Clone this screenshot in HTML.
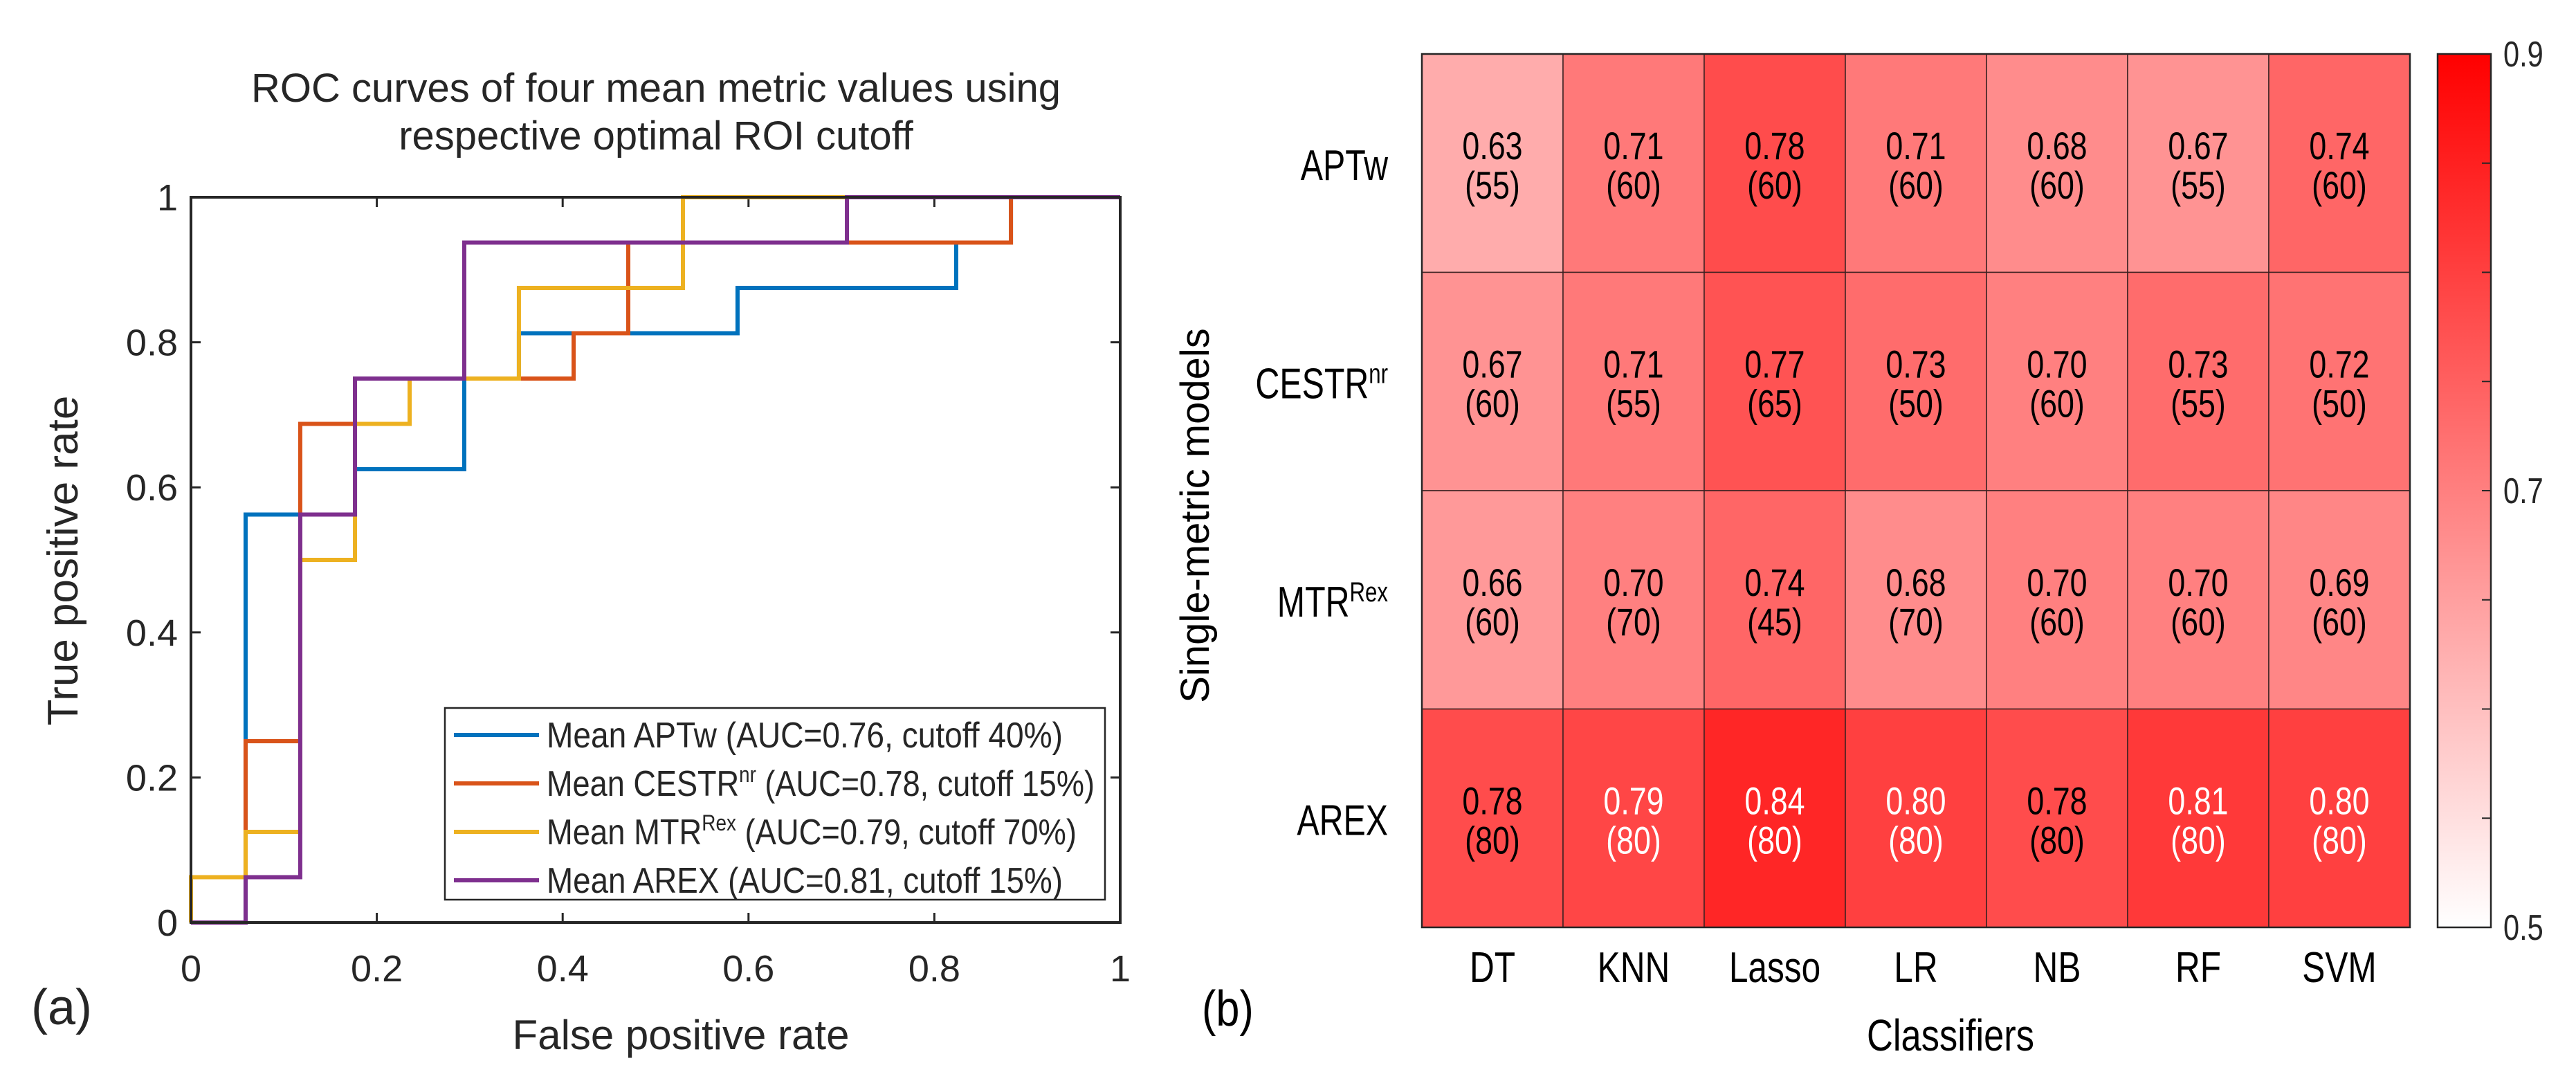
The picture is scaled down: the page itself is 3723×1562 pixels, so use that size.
<!DOCTYPE html>
<html><head><meta charset="utf-8"><style>
html,body{margin:0;padding:0;background:#fff}
svg{display:block}
text{font-family:"Liberation Sans",sans-serif;fill:#262626}
.n{font-family:"Liberation Sans Narrow","Liberation Sans",sans-serif}
</style></head><body>
<svg id="fig" width="3723" height="1562" viewBox="0 0 3723 1562" xmlns="http://www.w3.org/2000/svg">
<g id="roc"></g>
<g id="heat"></g>
</svg>
<script>
// ROC data (x = FPR, y = TPR)
const aptX=[0,0.0588,0.0588,0.1765,0.1765,0.2941,0.2941,0.3529,0.3529,0.5882,0.5882,0.8235,0.8235,0.8824,0.8824,1];
const aptY=[0,0,0.5625,0.5625,0.625,0.625,0.75,0.75,0.8125,0.8125,0.875,0.875,0.9375,0.9375,1,1];
const cesX=[0,0,0.0588,0.0588,0.1176,0.1176,0.1765,0.1765,0.4118,0.4118,0.4706,0.4706,0.8824,0.8824,1];
const cesY=[0,0.0625,0.0625,0.25,0.25,0.6875,0.6875,0.75,0.75,0.8125,0.8125,0.9375,0.9375,1,1];
const mtrX=[0,0,0.0588,0.0588,0.1176,0.1176,0.1765,0.1765,0.2353,0.2353,0.3529,0.3529,0.5294,0.5294,1];
const mtrY=[0,0.0625,0.0625,0.125,0.125,0.5,0.5,0.6875,0.6875,0.75,0.75,0.875,0.875,1,1];
const arexX=[0,0.0588,0.0588,0.1176,0.1176,0.1765,0.1765,0.2941,0.2941,0.7059,0.7059,1];
const arexY=[0,0,0.0625,0.0625,0.5625,0.5625,0.75,0.75,0.9375,0.9375,1,1];
const rocTicks=[0,0.2,0.4,0.6,0.8,1];
const rocTickLabels=["0","0.2","0.4","0.6","0.8","1"];
// Heatmap data
const classifiers=["DT","KNN","Lasso","LR","NB","RF","SVM"];
const models=["APTw","CESTR","MTR","AREX"];
const modelSup=["","nr","Rex",""];
const aucAPTw=[0.63,0.71,0.78,0.71,0.68,0.67,0.74];
const aucCESTR=[0.67,0.71,0.77,0.73,0.70,0.73,0.72];
const aucMTR=[0.66,0.70,0.74,0.68,0.70,0.70,0.69];
const aucAREX=[0.78,0.79,0.84,0.80,0.78,0.81,0.80];
const cutAPTw=[55,60,60,60,60,55,60];
const cutCESTR=[60,55,65,50,60,55,50];
const cutMTR=[60,70,45,70,60,60,60];
const cutAREX=[80,80,80,80,80,80,80];
const cbTicks=[0.5,0.7,0.9];

const NS="http://www.w3.org/2000/svg";
function mk(tag,attrs,parent,txt){const e=document.createElementNS(NS,tag);for(const k in attrs)e.setAttribute(k,attrs[k]);if(txt!==undefined)e.textContent=txt;parent.appendChild(e);return e;}
function nt(parent,x,y,size,anchor,s,txt,fill){return mk('text',{x:0,y:0,'font-size':size,'text-anchor':anchor,transform:`translate(${x},${y}) scale(${s},1)`,style:'fill:'+(fill||'#000')},parent,txt);}

// ---------- ROC ----------
const roc=document.getElementById('roc');
const L=276,R=1619,T=285,B=1333;
const sx=v=>L+v*(R-L), sy=v=>B-v*(B-T);
let t=mk('text',{x:948,y:147,'font-size':58,'text-anchor':'middle'},roc,'ROC curves of four mean metric values using');


t=mk('text',{x:948,y:216,'font-size':58,'text-anchor':'middle'},roc,'respective optimal ROI cutoff');


rocTicks.forEach((v,i)=>{
  let a=mk('line',{x1:sx(v),x2:sx(v),y1:B,y2:B-14,stroke:'#262626','stroke-width':3},roc);
  
  
  a=mk('line',{x1:sx(v),x2:sx(v),y1:T,y2:T+14,stroke:'#262626','stroke-width':3},roc);
  
  
  a=mk('line',{x1:L,x2:L+14,y1:sy(v),y2:sy(v),stroke:'#262626','stroke-width':3},roc);
  
  
  a=mk('line',{x1:R,x2:R-14,y1:sy(v),y2:sy(v),stroke:'#262626','stroke-width':3},roc);
  
  
  a=mk('text',{x:sx(v),y:1418,'font-size':54,'text-anchor':'middle'},roc,rocTickLabels[i]);
  
  
  a=mk('text',{x:257,y:sy(v)+19,'font-size':54,'text-anchor':'end'},roc,rocTickLabels[i]);
  
  
});
const series=[[aptX,aptY,'#0072BD','roc-apt'],[cesX,cesY,'#D95319','roc-cestr'],[mtrX,mtrY,'#EDB120','roc-mtr'],[arexX,arexY,'#7E2F8E','roc-arex']];
series.forEach(s=>{
  const pts=s[0].map((x,i)=>sx(x)+','+sy(s[1][i])).join(' ');
  const p=mk('polyline',{points:pts,fill:'none',stroke:s[2],'stroke-width':6,'stroke-linejoin':'miter'},roc);
  
  
});
let ax=mk('rect',{x:L,y:T,width:R-L,height:B-T,fill:'none',stroke:'#262626','stroke-width':4},roc);


t=mk('text',{x:984,y:1516,'font-size':60,'text-anchor':'middle'},roc,'False positive rate');


t=mk('text',{x:0,y:0,'font-size':62,'text-anchor':'middle',transform:'translate(112,810) rotate(-90)'},roc,'True positive rate');


t=mk('text',{x:45,y:1480,'font-size':72,fill:'#000'},roc,'(a)');


// legend
const lg=mk('g',{},roc);


mk('rect',{x:643,y:1023,width:954,height:277,fill:'#fff',stroke:'#262626','stroke-width':2.5},lg);
const legTxt=[["Mean APTw (AUC=0.76, cutoff 40%)","",""],["Mean CESTR","nr"," (AUC=0.78, cutoff 15%)"],["Mean MTR","Rex"," (AUC=0.79, cutoff 70%)"],["Mean AREX (AUC=0.81, cutoff 15%)","",""]];
const legW=[746,792,766,746];
series.forEach((s,i)=>{
  const y=1062+i*70;
  const e=mk('g',{},lg);
  
  
  mk('line',{x1:656,x2:779,y1:y,y2:y,stroke:s[2],'stroke-width':6},e);
  const tx=mk('text',{x:790,y:y+18,'font-size':52,fill:'#000',class:'n',textLength:legW[i],lengthAdjust:'spacingAndGlyphs'},e);
  mk('tspan',{},tx,legTxt[i][0]);
  if(legTxt[i][1]){mk('tspan',{dy:-20,'font-size':32},tx,legTxt[i][1]);mk('tspan',{dy:20},tx,legTxt[i][2]);}
});

// ---------- Heatmap ----------
const hm=document.getElementById('heat');
const HL=2055,HR=3483,HT=78,HB=1340;
const cw=(HR-HL)/classifiers.length, rh=(HB-HT)/models.length;
const auc=[aucAPTw,aucCESTR,aucMTR,aucAREX], cut=[cutAPTw,cutCESTR,cutMTR,cutAREX];
const col=v=>{const tt=Math.max(0,Math.min(1,(v-0.5)/0.4));const g=Math.round(255*(1-tt));return `rgb(255,${g},${g})`;};
models.forEach((m,r)=>{
  classifiers.forEach((c,k)=>{
    const v=auc[r][k];
    const x=HL+k*cw,y=HT+r*rh;
    const cell=mk('rect',{x:x,y:y,width:cw,height:rh,fill:col(v),stroke:'#3a2020','stroke-width':1.5},hm);
    
    
    const fc=v>0.785?'#fff':'#000';
    const a=nt(hm,x+cw/2,y+rh/2-6,56,'middle',0.8,v.toFixed(2),fc);
    
    
    const b=nt(hm,x+cw/2,y+rh/2+51,56,'middle',0.8,'('+cut[r][k]+')',fc);
    
    
  });
  const lt=mk('text',{x:0,y:0,'font-size':62,'text-anchor':'end',transform:`translate(2006,${HT+r*rh+rh/2+24}) scale(0.78,1)`,style:'fill:#000'},hm);
  
  
  mk('tspan',{},lt,m);
  if(modelSup[r]){mk('tspan',{dy:-22,'font-size':40},lt,modelSup[r]);}
});
mk('rect',{x:HL,y:HT,width:HR-HL,height:HB-HT,fill:'none',stroke:'#262626','stroke-width':2.5},hm);
classifiers.forEach((c,k)=>{
  const a=nt(hm,HL+k*cw+cw/2,1419,62,'middle',0.8,c);
  
  
});
t=nt(hm,2819,1518,64,'middle',0.82,'Classifiers');


t=mk('text',{x:0,y:0,'font-size':58,'text-anchor':'middle',transform:'translate(1747,745) rotate(-90)',style:'fill:#000'},hm,'Single-metric models');


t=nt(hm,1737,1482,72,'start',0.85,'(b)');


// colorbar
const defs=mk('defs',{},hm);
const gr=mk('linearGradient',{id:'cbg',x1:0,y1:1,x2:0,y2:0},defs);
mk('stop',{offset:0,'stop-color':'#fff'},gr);mk('stop',{offset:1,'stop-color':'#f00'},gr);
const CL=3523,CR=3600;
const cy=v=>HB-(v-0.5)/0.4*(HB-HT);
const cb=mk('rect',{x:CL,y:HT,width:CR-CL,height:HB-HT,fill:'url(#cbg)',stroke:'#262626','stroke-width':2.5},hm);


for(let v=0.55;v<0.9;v+=0.05){
  const a=mk('line',{x1:CR-13,x2:CR,y1:cy(v),y2:cy(v),stroke:'#262626','stroke-width':2},hm);
  
  
}
cbTicks.forEach(v=>{
  const a=nt(hm,3618,cy(v)+18,52,'start',0.8,v.toFixed(1),'#262626');
  
  
});
</script>
</body></html>
